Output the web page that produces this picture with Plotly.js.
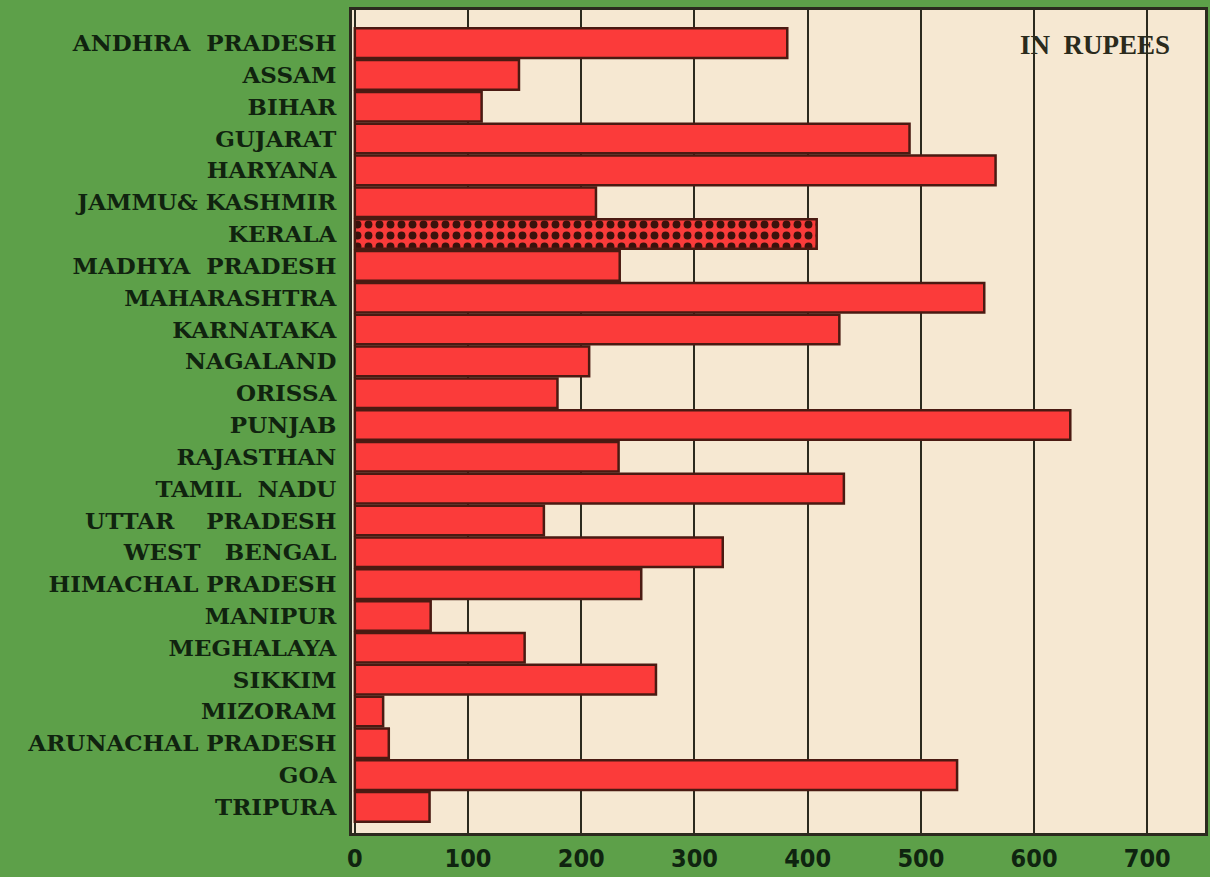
<!DOCTYPE html>
<html><head><meta charset="utf-8">
<script src="https://cdn.plot.ly/plotly-3.0.1.min.js"></script>
<style>html,body{margin:0;padding:0;background:#5c9f47;}</style>
</head><body>
<div id="chart" style="width:1210px;height:877px;"></div>
<script>
const states = ["ANDHRA  PRADESH","ASSAM","BIHAR","GUJARAT","HARYANA","JAMMU& KASHMIR","KERALA","MADHYA  PRADESH","MAHARASHTRA","KARNATAKA","NAGALAND","ORISSA","PUNJAB","RAJASTHAN","TAMIL  NADU","UTTAR    PRADESH","WEST   BENGAL","HIMACHAL PRADESH","MANIPUR","MEGHALAYA","SIKKIM","MIZORAM","ARUNACHAL PRADESH","GOA","TRIPURA"];
const values = [382,145,112,490,566,213,408,234,556,428,207,179,632,233,432,167,325,253,67,150,266,25,30,532,66];
const patterned = ["KERALA"];
const xTicks = [0,100,200,300,400,500,600,700];
const unitLabel = "IN  RUPEES";

const shapes = states.map(s => patterned.includes(s) ? "." : "");

const trace = {
  type: "bar",
  orientation: "h",
  y: states,
  x: values,
  marker: {
    color: "#fb3b3a",
    line: {color: "#4a1a12", width: 2.5},
    pattern: {shape: shapes, fgcolor: "#3a120c", bgcolor: "#fb3b3a", size: 11, solidity: 0.4, fillmode: "replace"}
  },
  hoverinfo: "x+y"
};

const layout = {
  width: 1210, height: 877,
  margin: {l: 352, r: 5, t: 10, b: 44, pad: 0},
  paper_bgcolor: "#5da049",
  plot_bgcolor: "#f6e8d2",
  bargap: 0.07,
  showlegend: false,
  xaxis: {
    range: [-2.5, 751],
    tickvals: xTicks,
    ticktext: xTicks.map(String),
    showgrid: true, gridcolor: "#2b2a1e", gridwidth: 2,
    zeroline: false,
    showline: true, mirror: true, linecolor: "#2b2a1e", linewidth: 3,
    ticks: "", ticklabelstandoff: 1,
    tickfont: {family: "DejaVu Sans Condensed", size: 25, color: "#0f2410", weight: "bold"}
  },
  yaxis: {
    type: "category",
    range: [24.82, -1.04],
    showgrid: false, zeroline: false,
    showline: true, mirror: true, linecolor: "#2b2a1e", linewidth: 3,
    ticks: "", ticklabelstandoff: 8,
    tickfont: {family: "DejaVu Serif", size: 23, color: "#10230f", weight: "bold"}
  },
  annotations: [{
    xref: "paper", yref: "paper", x: 0.871, y: 0.957,
    text: unitLabel, showarrow: false,
    font: {family: "Liberation Serif", size: 27, color: "#2a2a1c", weight: "bold"},
    xanchor: "center", yanchor: "middle"
  }]
};

Plotly.newPlot("chart", [trace], layout, {displayModeBar: false, staticPlot: true});
</script>
</body></html>
